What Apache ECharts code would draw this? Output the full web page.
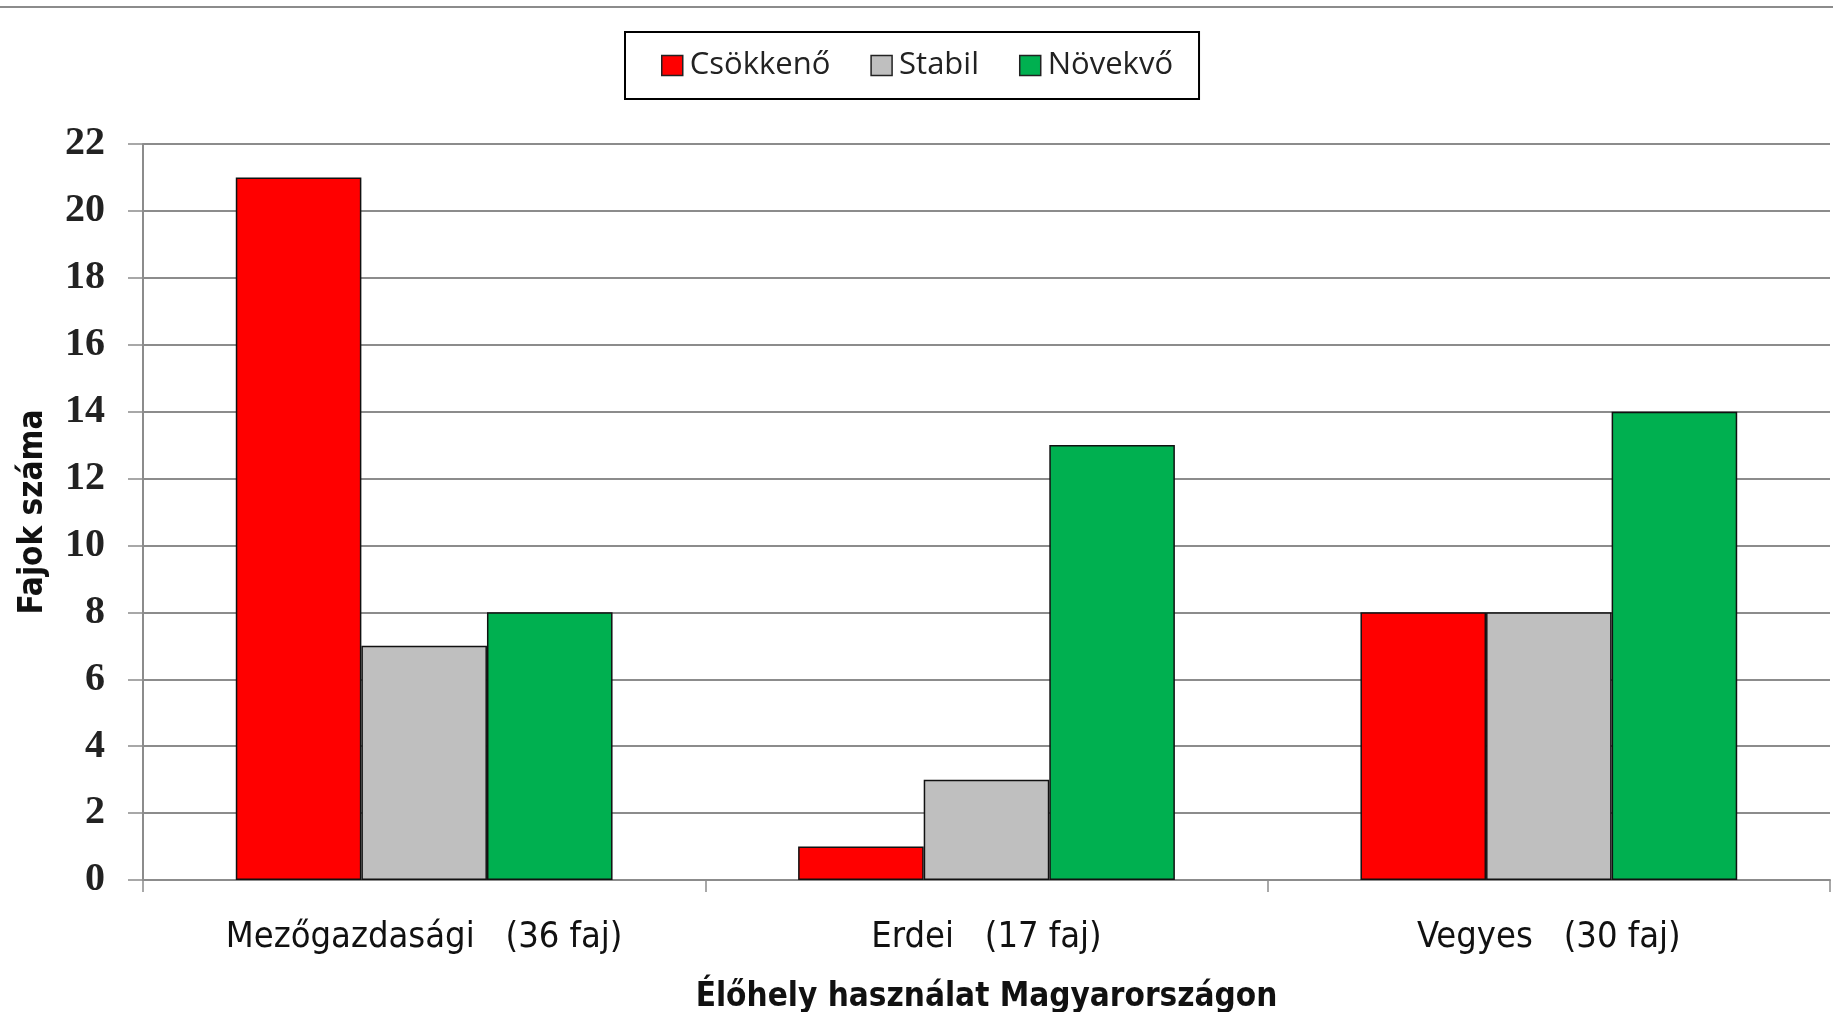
<!DOCTYPE html>
<html>
<head>
<meta charset="utf-8">
<script src="https://cdn.jsdelivr.net/npm/echarts@6/dist/echarts.min.js"></script>
<style>
  html, body { margin: 0; padding: 0; background: #fff; }
  #chart { width: 1833px; height: 1012px; }
</style>
</head>
<body>
<div id="chart"></div>
<script>
// adatok
var categories = ['Mezőgazdasági   (36 faj)', 'Erdei   (17 faj)', 'Vegyes   (30 faj)'];
var seriesNames = ['Csökkenő', 'Stabil', 'Növekvő'];
var csokkeno = [21, 1, 8];
var stabil = [7, 3, 8];
var novekvo = [8, 13, 14];
var colors = ['#ff0000', '#bfbfbf', '#00b050'];

var labelFont = "'Liberation Sans Narrow', 'DejaVu Sans Condensed', 'Liberation Sans', sans-serif";
var numFont = "'Liberation Serif', 'DejaVu Serif', serif";

var myChart = echarts.init(document.getElementById('chart'));

function bar(name, data, color) {
    return {
        name: name,
        type: 'bar',
        data: data,
        barGap: '0%',
        barCategoryGap: '33%',
        itemStyle: {
            color: color,
            borderColor: '#111',
            borderWidth: 1.5
        }
    }
}

var option = {
    animation: false,
    backgroundColor: '#fff',
    graphic: [{
        type: 'line',
        shape: { x1: 0, y1: 7, x2: 1833, y2: 7 },
        style: { stroke: '#8c8c8c', lineWidth: 2 }
    }],
    legend: {
        data: seriesNames.map(function (n) { return { name: n, icon: 'rect' } }),
        top: 32,
        left: 625,
        itemWidth: 21,
        itemHeight: 20,
        itemGap: 40,
        padding: [18, 26, 18, 36],
        borderColor: '#000',
        borderWidth: 2,
        itemStyle: { borderColor: '#222', borderWidth: 1.5 },
        textStyle: {
            fontFamily: "'Open Sans', 'Noto Sans', sans-serif",
            fontSize: 31,
            color: '#222',
            padding: [0, 0, 0, 2]
        }
    },
    grid: {
        left: 143,
        right: 3,
        top: 144,
        bottom: 132,
        outerBoundsMode: 'none'
    },
    xAxis: {
        type: 'category',
        data: categories,
        name: 'Élőhely használat Magyarországon',
        nameLocation: 'middle',
        nameGap: 101,
        nameTextStyle: {
            fontFamily: labelFont,
            fontWeight: 'bold',
            fontSize: 33,
            color: '#111'
        },
        axisLine: { lineStyle: { color: '#8c8c8c', width: 2 } },
        axisTick: { show: true, length: 12, lineStyle: { color: '#8c8c8c', width: 1.5 } },
        axisLabel: {
            fontFamily: labelFont,
            fontSize: 36,
            color: '#111',
            margin: 40
        }
    },
    yAxis: {
        type: 'value',
        min: 0,
        max: 22,
        interval: 2,
        name: 'Fajok száma',
        nameLocation: 'middle',
        nameGap: 93,
        nameRotate: 90,
        nameTextStyle: {
            fontFamily: labelFont,
            fontWeight: 'bold',
            fontSize: 33,
            color: '#111'
        },
        axisLine: { show: true, lineStyle: { color: '#8c8c8c', width: 2 } },
        axisTick: { show: true, length: 15, lineStyle: { color: '#8c8c8c', width: 1.5 } },
        splitLine: { lineStyle: { color: '#8c8c8c', width: 2 } },
        axisLabel: {
            fontFamily: numFont,
            fontWeight: 'bold',
            fontSize: 40,
            color: '#222',
            margin: 38
        }
    },
    series: [
        bar(seriesNames[0], csokkeno, colors[0]),
        bar(seriesNames[1], stabil, colors[1]),
        bar(seriesNames[2], novekvo, colors[2])
    ]
};

myChart.setOption(option);
</script>
</body>
</html>
